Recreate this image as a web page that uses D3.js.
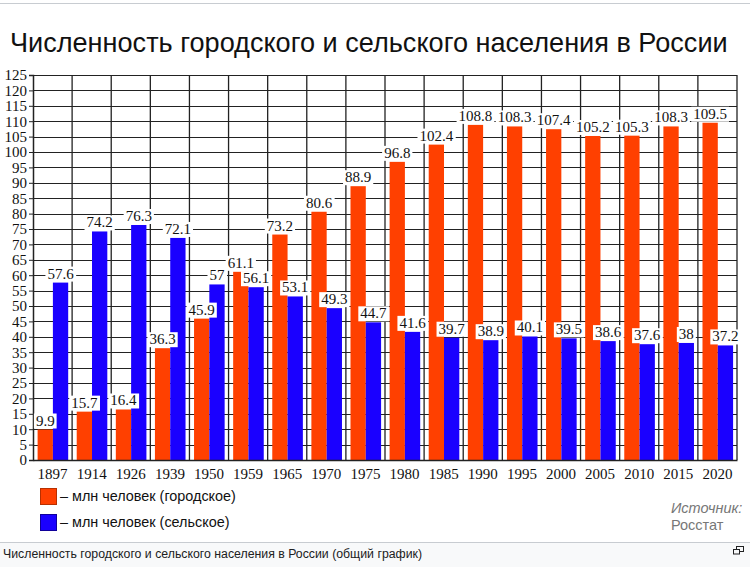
<!DOCTYPE html>
<html>
<head>
<meta charset="utf-8">
<script src="https://cdn.jsdelivr.net/npm/d3@7"></script>
<style>
  body { margin: 0; background: #fff; }
  svg { display: block; }
</style>
</head>
<body>
<div id="chart"></div>
<script>
const years = ['1897', '1914', '1926', '1939', '1950', '1959', '1965', '1970', '1975', '1980',
  '1985', '1990', '1995', '2000', '2005', '2010', '2015', '2020']
const urban = [9.9, 15.7, 16.4, 36.3, 45.9, 61.1, 73.2, 80.6, 88.9, 96.8,
  102.4, 108.8, 108.3, 107.4, 105.2, 105.3, 108.3, 109.5]
const rural = [57.6, 74.2, 76.3, 72.1, 57, 56.1, 53.1, 49.3, 44.7, 41.6,
  39.7, 38.9, 40.1, 39.5, 38.6, 37.6, 38, 37.2]
const seriesNames = ['urban', 'rural']
const legendLabels = ['– млн человек (городское)', '– млн человек (сельское)']
const colors = ['#ff4000', '#1a00ff']
const strokes = ['#b83000', '#10009a']
const yTicks = d3.range(0, 126, 5)

const W = 750
const H = 567
const margin = { top: 75, right: 13, bottom: 107, left: 33 }
const width = W - margin.left - margin.right
const height = H - margin.top - margin.bottom
const serif = '"Liberation Serif", "Times New Roman", serif'
const sans = '"Liberation Sans", Arial, sans-serif'

const svg = d3.select('#chart').append('svg')
  .attr('width', W)
  .attr('height', H)

// page frame line on top
svg.append('line')
  .attr('x1', 0).attr('x2', W).attr('y1', 3.5).attr('y2', 3.5)
  .attr('stroke', '#c8ccd1')

svg.append('text')
  .attr('x', 10)
  .attr('y', 52)
  .attr('font-family', sans)
  .attr('font-size', 27.1)
  .attr('fill', '#111')
  .text('Численность городского и сельского населения в России')

const g = svg.append('g')
  .attr('transform', 'translate(' + margin.left + ',' + margin.top + ')')

const xScale = d3.scaleBand()
  .domain(years)
  .range([0, width])

const xInner = d3.scaleBand()
  .domain(seriesNames)
  .range([4.6, 35.2])

const yScale = d3.scaleLinear()
  .domain([0, 125])
  .range([height, 0])

// horizontal grid
g.append('g')
  .selectAll('line')
  .data(yTicks)
  .enter().append('line')
  .attr('x1', 0).attr('x2', width)
  .attr('y1', d => Math.round(yScale(d)) + 0.5)
  .attr('y2', d => Math.round(yScale(d)) + 0.5)
  .attr('stroke', '#222')
  .attr('stroke-width', 1)

// vertical grid at category borders
g.append('g')
  .selectAll('line')
  .data(years.slice(1).concat(['end']))
  .enter().append('line')
  .attr('x1', (d, i) => xScale.step() * (i + 1))
  .attr('x2', (d, i) => xScale.step() * (i + 1))
  .attr('y1', 0).attr('y2', height)
  .attr('stroke', '#222')
  .attr('stroke-width', 1.3)

const rows = years.map((y, i) => ({ year: y, values: [urban[i], rural[i]] }))

const groups = g.selectAll('.grp')
  .data(rows)
  .enter().append('g')
  .attr('class', 'grp')
  .attr('transform', d => 'translate(' + xScale(d.year) + ',0)')

groups.selectAll('rect')
  .data(d => d.values.map((v, k) => ({ key: seriesNames[k], k, v })))
  .enter().append('rect')
  .attr('x', d => xInner(d.key))
  .attr('width', xInner.bandwidth())
  .attr('y', d => yScale(d.v))
  .attr('height', d => height - yScale(d.v))
  .attr('fill', d => colors[d.k])

// y axis
const yAxis = g.append('g')
  .call(d3.axisLeft(yScale).tickValues(yTicks).tickSize(4).tickPadding(2))
yAxis.select('.domain').attr('stroke', '#222').attr('stroke-width', 1.5)
yAxis.selectAll('line').attr('stroke', '#222')
yAxis.selectAll('text')
  .attr('font-family', serif)
  .attr('font-size', 15)
  .attr('fill', '#111')

// x axis
const xAxis = g.append('g')
  .attr('transform', 'translate(0,' + height + ')')
  .call(d3.axisBottom(xScale).tickSize(0).tickPadding(8))
xAxis.select('.domain').attr('stroke', '#222').attr('stroke-width', 1.5)
xAxis.selectAll('text')
  .attr('font-family', serif)
  .attr('font-size', 15)
  .attr('fill', '#111')

// value labels with white boxes
const labels = g.append('g')
rows.forEach(row => {
  row.values.forEach((v, k) => {
    const cx = xScale(row.year) + xInner(seriesNames[k]) + xInner.bandwidth() / 2
    const lg = labels.append('g')
    const t = lg.append('text')
      .attr('x', cx)
      .attr('y', yScale(v) - 4)
      .attr('text-anchor', 'middle')
      .attr('font-family', serif)
      .attr('font-size', 15)
      .attr('fill', '#111')
      .text(String(v))
    const bb = t.node().getBBox()
    lg.insert('rect', 'text')
      .attr('x', bb.x - 2)
      .attr('y', bb.y + 1)
      .attr('width', bb.width + 4)
      .attr('height', bb.height - 1)
      .attr('fill', '#fff')
  })
})

// legend
const legend = svg.append('g')
legendLabels.forEach((lab, k) => {
  const ly = 488 + k * 26
  legend.append('rect')
    .attr('x', 40.5).attr('y', ly + 0.5)
    .attr('width', 16).attr('height', 16)
    .attr('fill', colors[k])
    .attr('stroke', strokes[k])
  legend.append('text')
    .attr('x', 60)
    .attr('y', ly + 13)
    .attr('font-family', sans)
    .attr('font-size', 14.4)
    .attr('fill', '#111')
    .text(lab)
})

// source
svg.append('text')
  .attr('x', 671).attr('y', 513)
  .attr('font-family', sans)
  .attr('font-size', 14.5)
  .attr('font-style', 'italic')
  .attr('fill', '#777')
  .text('Источник:')
svg.append('text')
  .attr('x', 671).attr('y', 530)
  .attr('font-family', sans)
  .attr('font-size', 14.5)
  .attr('fill', '#777')
  .text('Росстат')

// caption bar
svg.append('rect')
  .attr('x', 0).attr('y', 542)
  .attr('width', W).attr('height', H - 542)
  .attr('fill', '#f8f9fa')
svg.append('line')
  .attr('x1', 0).attr('x2', W).attr('y1', 542.5).attr('y2', 542.5)
  .attr('stroke', '#c8ccd1')
svg.append('text')
  .attr('x', 3).attr('y', 558)
  .attr('font-family', sans)
  .attr('font-size', 12.3)
  .attr('fill', '#202122')
  .text('Численность городского и сельского населения в России (общий график)')

// enlarge icon
const icon = svg.append('g')
  .attr('transform', 'translate(733,546)')
  .attr('fill', 'none')
  .attr('stroke', '#202122')
  .attr('stroke-width', 1)
icon.append('rect').attr('x', 3.5).attr('y', 0.5).attr('width', 7).attr('height', 5)
icon.append('rect').attr('x', 0.5).attr('y', 3.5).attr('width', 6).attr('height', 4.5).attr('fill', '#f8f9fa')
</script>
</body>
</html>
